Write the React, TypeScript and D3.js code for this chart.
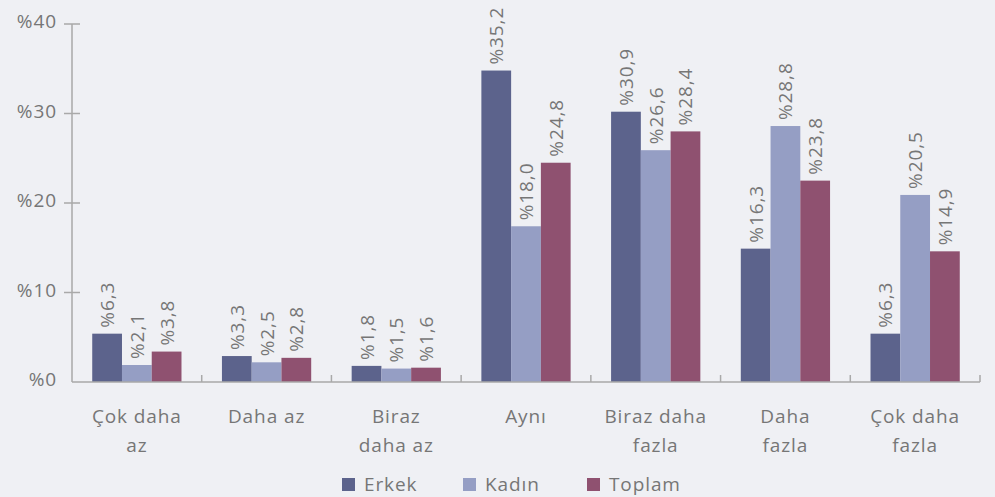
import React, { useEffect, useRef } from 'react';
import * as d3 from 'd3';

// categories (split into display lines)
const categories = ['Çok daha az', 'Daha az', 'Biraz daha az', 'Aynı', 'Biraz daha fazla', 'Daha fazla', 'Çok daha fazla'];
const categoryLines = [['Çok daha', 'az'], ['Daha az'], ['Biraz', 'daha az'], ['Aynı'], ['Biraz daha', 'fazla'], ['Daha', 'fazla'], ['Çok daha', 'fazla']];

const seriesNames = ['Erkek', 'Kadın', 'Toplam'];
const seriesColors = ['#5c638c', '#959ec4', '#8f5170'];

// bar heights as drawn
const erkek = [5.4, 2.9, 1.8, 34.8, 30.2, 14.9, 5.4];
const kadin = [1.9, 2.2, 1.5, 17.4, 25.9, 28.6, 20.9];
const toplam = [3.4, 2.7, 1.6, 24.5, 28.0, 22.5, 14.6];

// value labels as printed
const erkekLabels = ['%6,3', '%3,3', '%1,8', '%35,2', '%30,9', '%16,3', '%6,3'];
const kadinLabels = ['%2,1', '%2,5', '%1,5', '%18,0', '%26,6', '%28,8', '%20,5'];
const toplamLabels = ['%3,8', '%2,8', '%1,6', '%24,8', '%28,4', '%23,8', '%14,9'];

const yTicks = [0, 10, 20, 30, 40];

const W = 995;
const H = 497;

const App = () => {
  const ref = useRef<SVGSVGElement>(null);

  useEffect(() => {
    const svg = d3.select(ref.current);
    svg.selectAll('*').remove();

    const font = '"Open Sans", sans-serif';
    const fs = 19;
    const ls = 0.9;
    const textColor = '#767676';
    const axisColor = '#a9a9a9';

    const x0 = d3.scaleBand().domain(categories).range([72, 980]);
    const x1 = d3.scaleBand().domain(seriesNames).range([0, x0.bandwidth()]).paddingInner(0).paddingOuter(0.68);
    const y = d3.scaleLinear().domain([0, 40]).range([382, 24]);

    svg.append('rect').attr('width', W).attr('height', H).attr('fill', '#eff0f4');

    const values = [erkek, kadin, toplam];
    const labels = [erkekLabels, kadinLabels, toplamLabels];

    const txt = (sel: any) => sel
      .attr('font-family', font)
      .attr('font-size', fs)
      .attr('letter-spacing', ls)
      .attr('fill', textColor);

    // bars
    const groups = svg.selectAll('g.grp')
      .data(categories)
      .enter().append('g')
      .attr('class', 'grp')
      .attr('transform', d => `translate(${x0(d)},0)`);

    groups.each(function (cat, ci) {
      const g = d3.select(this);
      seriesNames.forEach((s, si) => {
        const v = values[si][ci];
        const bx = x1(s)!;
        g.append('rect')
          .attr('x', bx)
          .attr('y', y(v))
          .attr('width', x1.bandwidth())
          .attr('height', y(0) - y(v))
          .attr('fill', seriesColors[si]);
        const cx = bx + x1.bandwidth() / 2 + 7;
        const cy = y(v) - 6;
        g.append('text')
          .attr('transform', `translate(${cx},${cy}) rotate(-90)`)
          .attr('text-anchor', 'start')
          .call(txt)
          .text(labels[si][ci]);
      });
    });

    // y axis
    svg.append('line').attr('x1', 72).attr('x2', 72).attr('y1', y(40)).attr('y2', y(0))
      .attr('stroke', axisColor).attr('stroke-width', 1.5);
    yTicks.forEach(t => {
      if (t > 0) {
        svg.append('line').attr('x1', 64).attr('x2', 80).attr('y1', y(t)).attr('y2', y(t))
          .attr('stroke', axisColor).attr('stroke-width', 1.5);
      }
      svg.append('text')
        .attr('x', 57).attr('y', y(t) + 4)
        .attr('text-anchor', 'end')
        .call(txt)
        .text(`%${t}`);
    });

    // x axis
    svg.append('line').attr('x1', 72).attr('x2', 980).attr('y1', y(0)).attr('y2', y(0))
      .attr('stroke', axisColor).attr('stroke-width', 1.5);
    categories.forEach((c, i) => {
      const xs = x0(c)! + x0.bandwidth();
      svg.append('line').attr('x1', xs).attr('x2', xs).attr('y1', y(0) - 7).attr('y2', y(0))
        .attr('stroke', axisColor).attr('stroke-width', 1.5);
      const t = svg.append('text')
        .attr('text-anchor', 'middle')
        .call(txt);
      categoryLines[i].forEach((line, li) => {
        t.append('tspan')
          .attr('x', x0(c)! + x0.bandwidth() / 2)
          .attr('y', 423 + li * 29)
          .text(line);
      });
    });

    // legend
    const legendX = [342, 463, 587];
    seriesNames.forEach((s, i) => {
      svg.append('rect').attr('x', legendX[i]).attr('y', 478).attr('width', 13).attr('height', 13)
        .attr('fill', seriesColors[i]);
      svg.append('text')
        .attr('x', legendX[i] + 22).attr('y', 491)
        .call(txt)
        .text(s);
    });
  }, []);

  return (
    <svg ref={ref} width={W} height={H} style={{ position: 'absolute', left: 0, top: 0 }} />
  );
};

export default App;
